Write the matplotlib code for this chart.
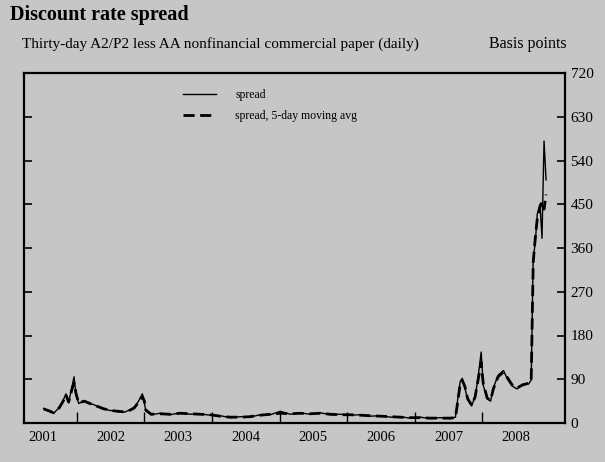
import matplotlib
matplotlib.use("Agg")
import matplotlib.pyplot as plt
from matplotlib.ticker import FixedLocator, NullFormatter

# ---- data (decimal years, basis points) ----
dates = [2001.51, 2001.59, 2001.66, 2001.74, 2001.80, 2001.84, 2001.88, 2001.93,
         2001.96, 2001.99, 2002.03, 2002.11, 2002.18, 2002.25, 2002.33, 2002.40,
         2002.48, 2002.55, 2002.62, 2002.70, 2002.77, 2002.85, 2002.91, 2002.97,
         2003.00, 2003.02, 2003.10, 2003.23, 2003.38, 2003.53, 2003.68, 2003.82,
         2003.97, 2004.12, 2004.27, 2004.42, 2004.56, 2004.71, 2004.86, 2005.01,
         2005.16, 2005.30, 2005.45, 2005.60, 2005.75, 2005.90, 2006.04, 2006.19,
         2006.34, 2006.49, 2006.64, 2006.78, 2006.93, 2007.08, 2007.23, 2007.37,
         2007.52, 2007.60, 2007.63, 2007.67, 2007.70, 2007.74, 2007.78, 2007.84,
         2007.89, 2007.93, 2007.98, 2008.01, 2008.07, 2008.12, 2008.16, 2008.23,
         2008.31, 2008.37, 2008.44, 2008.51, 2008.59, 2008.68, 2008.72, 2008.74,
         2008.75, 2008.78, 2008.81, 2008.85, 2008.88, 2008.91, 2008.94]

spread = [30, 24, 20, 32, 47, 60, 42, 75,
          95, 58, 40, 46, 40, 38, 32, 30,
          26, 25, 23, 22, 26, 32, 44, 60,
          42, 25, 17, 20, 17, 21, 18, 19,
          16, 15, 11, 13, 12, 17, 17, 24,
          18, 21, 18, 21, 17, 18, 16, 17,
          14, 15, 12, 13, 10, 12, 9, 11,
          9, 12, 45, 85, 92, 72, 48, 35,
          55, 88, 146, 78, 50, 45, 72, 98,
          108, 90, 76, 70, 80, 80, 88, 260,
          340, 370, 430, 450, 380, 580, 500]

spread_ma = [29, 25, 21, 31, 45, 58, 43, 70,
             82, 60, 41, 45, 41, 37, 33, 29,
             27, 25, 24, 23, 25, 31, 42, 55,
             45, 27, 18, 19, 18, 20, 19, 18,
             17, 14, 12, 12, 13, 16, 18, 20,
             19, 20, 19, 20, 18, 17, 17, 16,
             15, 14, 13, 12, 11, 11, 10, 10,
             10, 11, 40, 80, 88, 75, 50, 37,
             53, 85, 125, 82, 51, 47, 70, 95,
             105, 93, 78, 72, 78, 82, 86, 250,
             330, 380, 420, 444, 455, 440, 470]

year_labels = ["2001", "2002", "2003", "2004", "2005", "2006", "2007", "2008"]
y_ticks = [0, 90, 180, 270, 360, 450, 540, 630, 720]

# ---- style ----
BG = "#c6c6c6"
SERIF = ["Liberation Serif", "DejaVu Serif"]
plt.rcParams["font.family"] = SERIF

fig = plt.figure(figsize=(6.05, 4.62), dpi=100, facecolor=BG)
ax = fig.add_axes([24 / 605, 39 / 462, 541 / 605, 350 / 462], facecolor=BG)

ax.plot(dates, spread, color="black", lw=1.0, label="spread")
ax.plot(dates, spread_ma, color="black", lw=2.0, dashes=(4, 2),
        label="spread, 5-day moving avg")

ax.set_xlim(2001.22, 2009.22)
ax.set_ylim(0, 720)

# x axis: ticks at year starts (inward), labels at mid-year
year_nums = [int(y) for y in year_labels]
ax.xaxis.set_major_locator(FixedLocator([y + 1.0 for y in year_nums[:-1]]))
ax.xaxis.set_major_formatter(NullFormatter())
ax.xaxis.set_minor_locator(FixedLocator([y + 0.5 for y in year_nums]))
ax.set_xticklabels(year_labels, minor=True)
ax.tick_params(axis="x", which="major", direction="in", length=8, width=1, color="black")
ax.tick_params(axis="x", which="minor", length=0, labelsize=10.5, pad=6)

# y axis: ticks both sides inward, labels on right
ax.set_yticks(y_ticks)
ax.yaxis.tick_right()
ax.tick_params(axis="y", which="major", direction="in", length=6, width=1.2,
               left=True, right=True, labelleft=False, labelright=True,
               labelsize=11, pad=4)

for s in ax.spines.values():
    s.set_linewidth(1.6)
    s.set_color("black")

leg = ax.legend(loc="upper left", bbox_to_anchor=(0.275, 0.985), frameon=False,
                fontsize=8.5, handlelength=2.8, handletextpad=1.6, labelspacing=0.8)

fig.text(10 / 605, 1 - 15 / 462, "Discount rate spread", fontsize=14.5, fontweight="bold",
         va="center", ha="left")
fig.text(22 / 605, 1 - 44 / 462,
         "Thirty-day A2/P2 less AA nonfinancial commercial paper (daily)",
         fontsize=11, va="center", ha="left")
fig.text(567 / 605, 1 - 44 / 462, "Basis points", fontsize=11.5, va="center", ha="right")

fig.savefig("out.png", dpi=100, facecolor=BG)
